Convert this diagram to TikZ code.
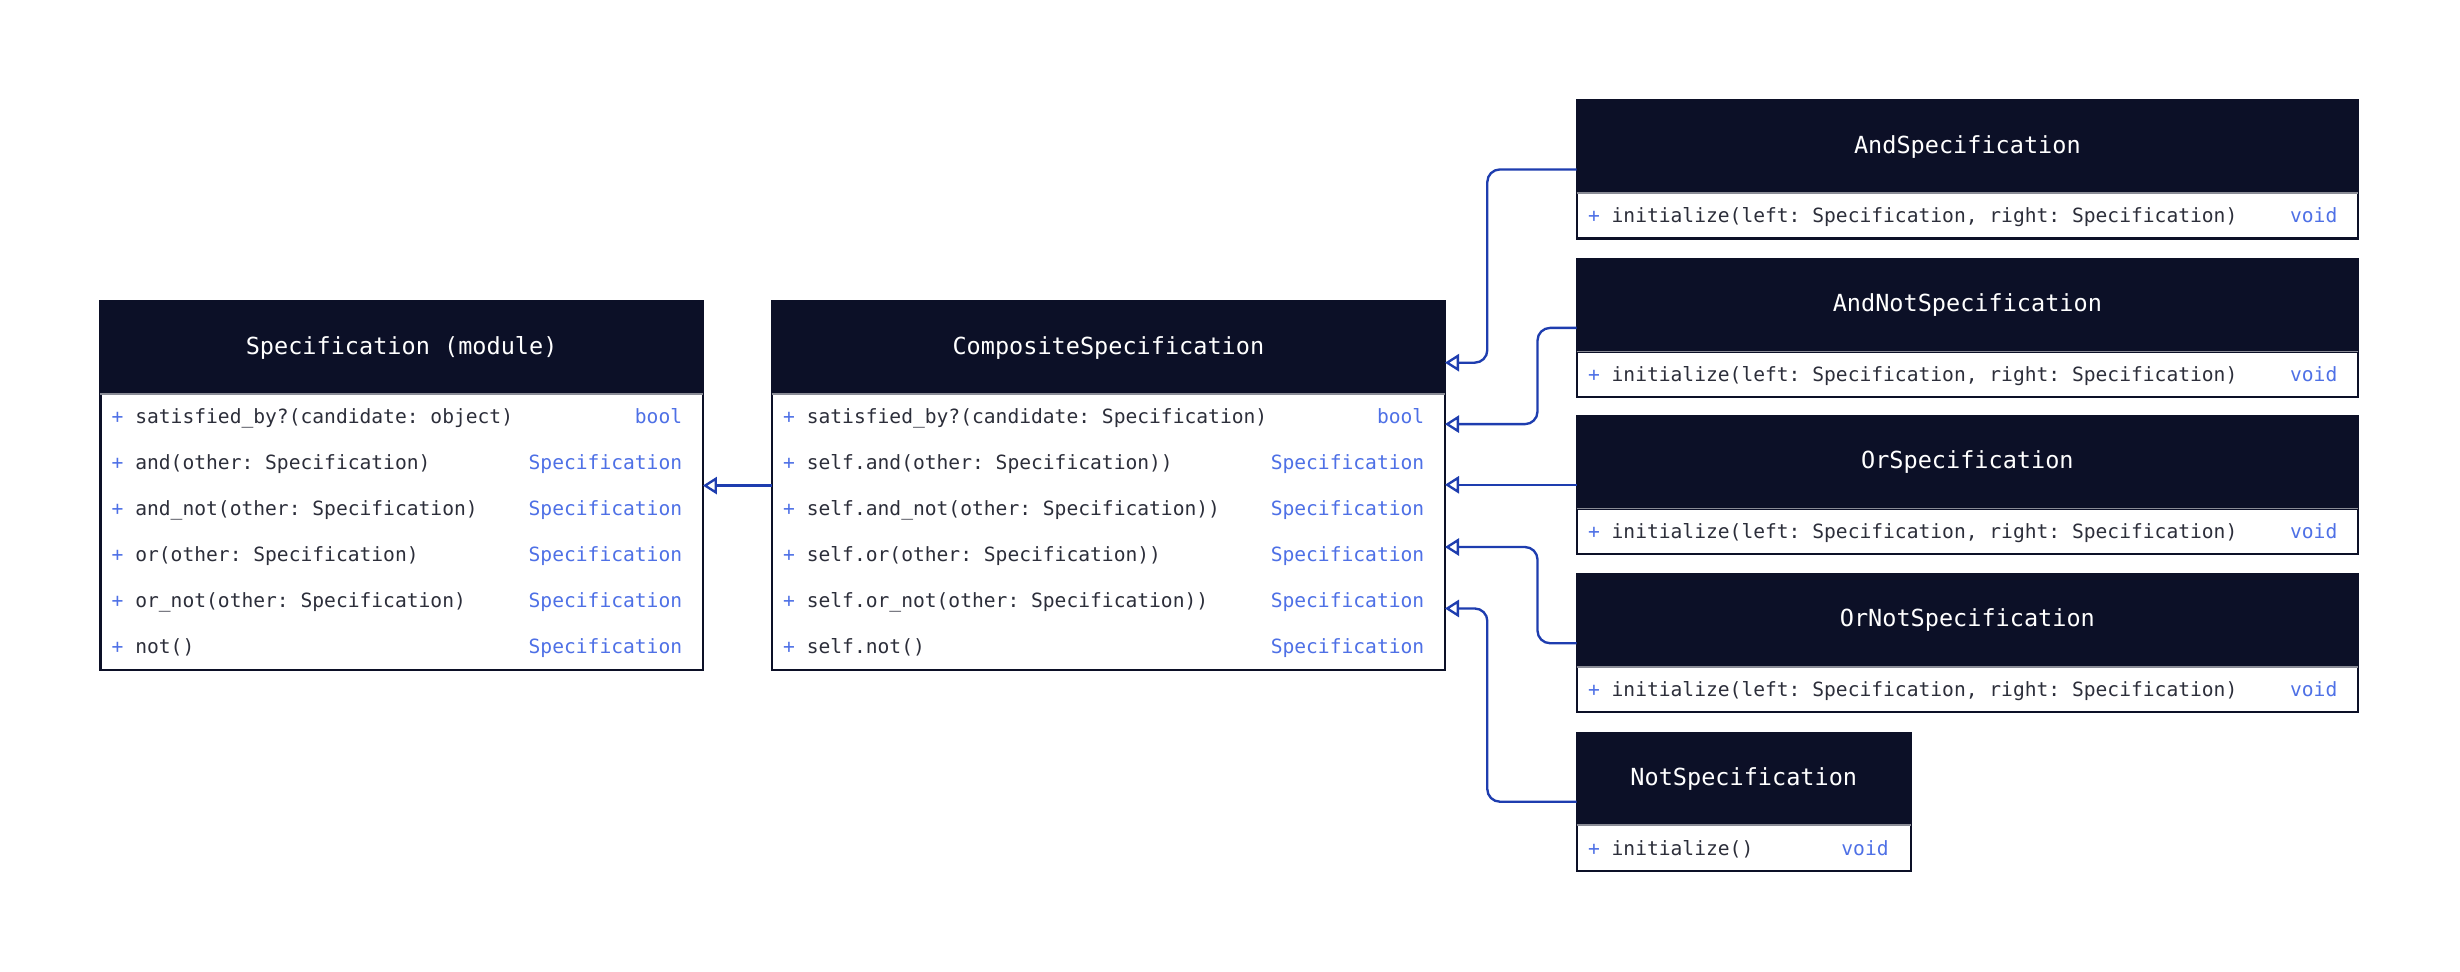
\documentclass[tikz,border=0pt]{standalone}
\usepackage{fontspec}
\setmonofont{DejaVu Sans Mono}
\usetikzlibrary{arrows.meta,calc,positioning}
\definecolor{headbg}{HTML}{0C1027}
\definecolor{boxline}{HTML}{0C1027}
\definecolor{sepgray}{HTML}{8A8C96}
\definecolor{txtgray}{HTML}{2C2E3A}
\definecolor{retblue}{HTML}{4E70E6}
\definecolor{linkblue}{HTML}{1E3DAF}
\tikzset{head/.style={fill=headbg, draw=headbg, line width=1.5pt, text=white, anchor=north west,
    font=\fontsize{15}{18}\ttfamily, minimum height=59pt, inner sep=0pt, outer sep=0pt},
body/.style={fill=white, draw=boxline, line width=1.5pt, anchor=north west, inner sep=0pt, outer sep=0pt},
meth/.style={anchor=base west, font=\fontsize{12.5}{15}\ttfamily, text=txtgray, inner sep=0pt},
ret/.style={anchor=base east, font=\fontsize{12.5}{15}\ttfamily, text=retblue, inner sep=0pt},
inherit/.style={draw=linkblue, line width=1.5pt, rounded corners=8pt,
    -{Triangle[open, length=9pt, width=11pt]}}}
\newcommand{\pls}{{\color{retblue}+} }

\begin{document}
\begin{tikzpicture}[x=1pt,y=-1pt]

    \useasboundingbox (0,0) rectangle (1568,619.5);

    % left classes
    \node[head, minimum width=384pt] (spec) at (64,192) {Specification (module)};
    \node[body, minimum width=384pt, minimum height=176pt] (specb) at (spec.south west) {};
    \draw[sepgray, line width=1pt] (specb.north west) -- (specb.north east);
    \foreach \m/\r [count=\i] in {{satisfied\_by?(candidate: object)}/bool,
        {and(other: Specification)}/Specification,
        {and\_not(other: Specification)}/Specification,
        {or(other: Specification)}/Specification,
        {or\_not(other: Specification)}/Specification,
        {not()}/Specification}
    {
      \node[meth] (specm\i) at ($(specb.north west)+(7,{(\i-0.5)*29.33+4.5})$) {\pls\m};
      \node[ret] (specr\i) at ($(specb.north east)+(-13,{(\i-0.5)*29.33+4.5})$) {\r};
    }

    \node[head, minimum width=429pt] (comp) at (492,192) {CompositeSpecification};
    \node[body, minimum width=429pt, minimum height=176pt] (compb) at (comp.south west) {};
    \draw[sepgray, line width=1pt] (compb.north west) -- (compb.north east);
    \foreach \m/\r [count=\i] in {{satisfied\_by?(candidate: Specification)}/bool,
        {self.and(other: Specification))}/Specification,
        {self.and\_not(other: Specification))}/Specification,
        {self.or(other: Specification))}/Specification,
        {self.or\_not(other: Specification))}/Specification,
        {self.not()}/Specification}
    {
      \node[meth] (compm\i) at ($(compb.north west)+(7,{(\i-0.5)*29.33+4.5})$) {\pls\m};
      \node[ret] (compr\i) at ($(compb.north east)+(-13,{(\i-0.5)*29.33+4.5})$) {\r};
    }

    % subclasses
    \foreach \n/\t/\y/\w in {and/AndSpecification/64/498, andnot/AndNotSpecification/165/498,
        or/OrSpecification/265/498, ornot/OrNotSpecification/366/498, not/NotSpecification/467/213}
    {
      \node[head, minimum width=\w pt] (\n) at (1005,\y) {\t};
      \node[body, minimum width=\w pt, minimum height=29pt] (\n b) at (\n.south west) {};
      \draw[sepgray, line width=1pt] (\n b.north west) -- (\n b.north east);
      \coordinate (\n src) at ($(\n.north west)!0.5!(\n b.south west)$);
    }
    \foreach \n in {and,andnot,or,ornot}
    {
      \node[meth] (\n m) at ($(\n b.west)+(7,4.5)$) {\pls initialize(left: Specification, right: Specification)};
      \node[ret] (\n r) at ($(\n b.east)+(-13,4.5)$) {void};
    }
    \node[meth] (notm) at ($(notb.west)+(7,4.5)$) {\pls initialize()};
    \node[ret] (notr) at ($(notb.east)+(-14,4.5)$) {void};

    \foreach \k in {1,...,5}
    \coordinate (t\k) at ($(comp.north east)!\k/6!(compb.south east)$);
    \coordinate (compsrc) at ($(comp.north west)!0.5!(compb.south west)$);

    \draw[inherit] (compsrc) -- (compsrc -| specb.east);
    \draw[inherit] (andsrc) -- ++(-57,0) |- (t1);
    \draw[inherit] (andnotsrc) -- ++(-25,0) |- (t2);
    \draw[inherit] (orsrc) -- (orsrc -| compb.east);
    \draw[inherit] (ornotsrc) -- ++(-25,0) |- (t4);
    \draw[inherit] (notsrc) -- ++(-57,0) |- (t5);

  \end{tikzpicture}
\end{document}
